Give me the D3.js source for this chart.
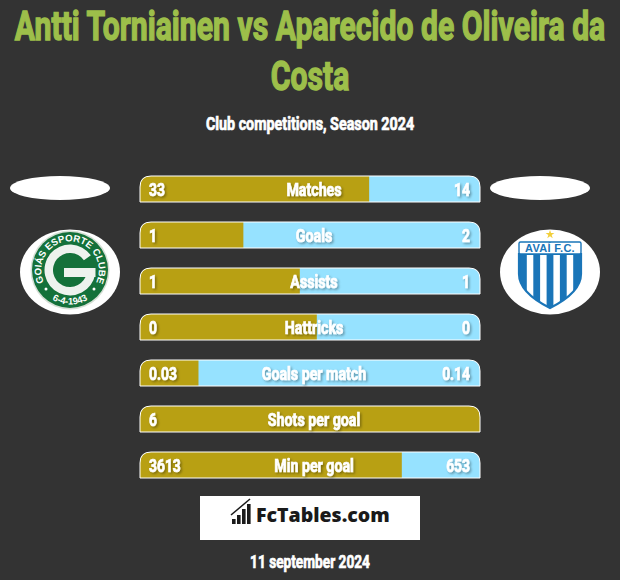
<!DOCTYPE html>
<html><head><meta charset="utf-8">
<script src="https://cdn.jsdelivr.net/npm/d3@7/dist/d3.min.js"></script>
<style>html,body{margin:0;padding:0;background:#333}svg{display:block}</style></head>
<body><svg id="c" width="620" height="580"></svg>
<script>
const categories=["Matches","Goals","Assists","Hattricks","Goals per match","Shots per goal","Min per goal"];
const leftLabels=["33","1","1","0","0.03","6","3613"];
const rightLabels=["14","2","1","0","0.14","","653"];
const leftShare=[67.4,30.4,47,52,17.2,100,77];
const titleLines=["Antti Torniainen vs Aparecido de Oliveira da","Costa"];
const subtitle="Club competitions, Season 2024";
const dateLabel="11 september 2024";

const FONT="'Roboto','Liberation Sans',sans-serif";
const svg=d3.select("#c");
const defs=svg.append("defs");
const f=defs.append("filter").attr("id","sh").attr("x","-20%").attr("y","-20%").attr("width","150%").attr("height","150%");
f.append("feDropShadow").attr("dx",1.5).attr("dy",1.5).attr("stdDeviation",1).attr("flood-color","#000").attr("flood-opacity",.35);

function label(g,x,y,txt,size,anchor,fill,sx,sw){
  return g.append("text").attr("transform",`translate(${x},${y}) scale(${sx},1)`)
    .attr("text-anchor",anchor).attr("font-family",FONT).attr("font-weight",700)
    .attr("font-size",size).attr("fill",fill).attr("stroke",fill).attr("stroke-width",sw).text(txt);
}
titleLines.forEach((l,i)=>label(svg,310,[40,90][i],l,40.8,"middle","#9dbf4a",.74,1.4));
label(svg,310,130,subtitle,18,"middle","#fff",.795,.7);

const x=d3.scaleLinear().domain([0,100]).range([140,480]);
const y=d3.scaleBand().domain(categories).range([176,478]).paddingInner(20/46);
const bh=y.bandwidth();
const r=11;
const shape=(x0,x1,y0,h)=>`M${x0},${y0+h}V${y0+r}Q${x0},${y0} ${x0+r},${y0}H${x1-r}Q${x1},${y0} ${x1},${y0+r}V${y0+h}Z`;
const rows=svg.selectAll("g.row").data(categories).join("g").attr("class","row");
rows.each(function(c,i){
  const g=d3.select(this),y0=y(c);
  const id="clip"+i;
  defs.append("clipPath").attr("id",id).append("path").attr("d",shape(x(0),x(100),y0,bh));
  g.append("rect").attr("clip-path",`url(#${id})`).attr("x",x(0)).attr("y",y0).attr("width",x(100)-x(0)).attr("height",bh).attr("fill","#96e2ff");
  g.append("rect").attr("clip-path",`url(#${id})`).attr("x",x(0)).attr("y",y0).attr("width",x(leftShare[i])-x(0)).attr("height",bh).attr("fill","#b8a013");
  g.append("path").attr("d",shape(x(0),x(100),y0,bh)).attr("fill","none").attr("stroke","#fff").attr("stroke-width",1);
  const base=y0+bh/2+6.5;
  const s=g.append("g").attr("filter","url(#sh)");
  label(s,149,base,leftLabels[i],18,"start","#fff",.77,.7);
  label(s,314,base,c,18,"middle","#fff",.79,.7);
  label(s,470,base,rightLabels[i],18,"end","#fff",.77,.7);
});

// placeholders and badges
svg.append("ellipse").attr("cx",60).attr("cy",188).attr("rx",50).attr("ry",12).attr("fill","#fff");
svg.append("ellipse").attr("cx",540).attr("cy",188).attr("rx",50).attr("ry",12).attr("fill","#fff");
svg.append("ellipse").attr("cx",70).attr("cy",272).attr("rx",50).attr("ry",42.5).attr("fill","#fff");
svg.append("ellipse").attr("cx",550).attr("cy",272).attr("rx",50).attr("ry",42.5).attr("fill","#fff");

// Goias badge
const go=svg.append("g").attr("transform","translate(70,270)");
go.append("circle").attr("r",39.5).attr("fill","#d5dfd5");
go.append("circle").attr("r",38).attr("fill","#14713a");
defs.append("path").attr("id","arcTop").attr("d","M-25,14.5A28.8,28.8 0 1 1 25,14.5");
defs.append("path").attr("id","arcBot").attr("d","M-26,23A35,35 0 0 0 26,23");
const arcT=(id,t,fs)=>go.append("text").attr("font-family","'Liberation Sans'").attr("font-weight",700).attr("font-size",fs).attr("fill","#fff").attr("text-anchor","middle").append("textPath").attr("href","#"+id).attr("startOffset","50%").text(t);
arcT("arcTop","GOIÁS ESPORTE CLUBE",9.6);
arcT("arcBot","6-4-1943",9.4);
[[-24,19],[24,19]].forEach(p=>go.append("circle").attr("cx",p[0]).attr("cy",p[1]).attr("r",1.5).attr("fill","#fff"));
const gArc=d3.arc().innerRadius(17).outerRadius(25.5).startAngle(100*Math.PI/180).endAngle(415*Math.PI/180);
go.append("path").attr("d",gArc()).attr("fill","#eef2ee");
go.append("rect").attr("x",-6).attr("y",-2).attr("width",31.5).attr("height",9).attr("fill","#eef2ee");

// Avai badge
const av=svg.append("g").attr("transform","translate(550,270)");
const shield="M-31,-16H31V4C31,20 12,32 0,38C-12,32 -31,20 -31,4Z";
defs.append("clipPath").attr("id","shieldClip").append("path").attr("d",shield);
av.append("path").attr("d",shield).attr("fill","#fff");
const st=av.append("g").attr("clip-path","url(#shieldClip)");
d3.range(-30,31,13.3).forEach(v=>st.append("rect").attr("x",v).attr("y",-18).attr("width",6.8).attr("height",60).attr("fill","#1a75b8"));
av.append("path").attr("d",shield).attr("fill","none").attr("stroke","#1a75b8").attr("stroke-width",2.2);
av.append("rect").attr("x",-31).attr("y",-28).attr("width",62).attr("height",12).attr("rx",1.5).attr("fill","#fff").attr("stroke","#1a75b8").attr("stroke-width",1.4);
av.append("text").attr("y",-18).attr("text-anchor","middle").attr("font-family","'Liberation Sans'").attr("font-weight",700).attr("font-size",11).attr("letter-spacing",.3).attr("fill","#1a75b8").text("AVAÍ F.C.");
av.append("path").attr("d",d3.symbol(d3.symbolStar,24)()).attr("transform","translate(0,-35.5)").attr("fill","#f2cf3a");

// Logo
svg.append("rect").attr("x",200).attr("y",496).attr("width",220).attr("height",44).attr("fill","#fff");
const lg=svg.append("g").attr("fill","#1a1a1a");
[[232,3.6,5],[237,3.6,9],[242,3.6,15],[247,3.6,20]].forEach(d=>lg.append("rect").attr("x",d[0]).attr("y",524-d[2]).attr("width",d[1]).attr("height",d[2]));
lg.append("path").attr("d","M231,515L250,499").attr("stroke","#1a1a1a").attr("stroke-width",1.5).attr("fill","none");
svg.append("text").attr("x",256).attr("y",522).attr("font-family","'Open Sans','DejaVu Sans'").attr("font-weight",800).attr("font-size",19.5).attr("fill","#1a1a1a").text("FcTables.com");
label(svg,310,568,dateLabel,18,"middle","#fff",.76,.7);
</script></body></html>
